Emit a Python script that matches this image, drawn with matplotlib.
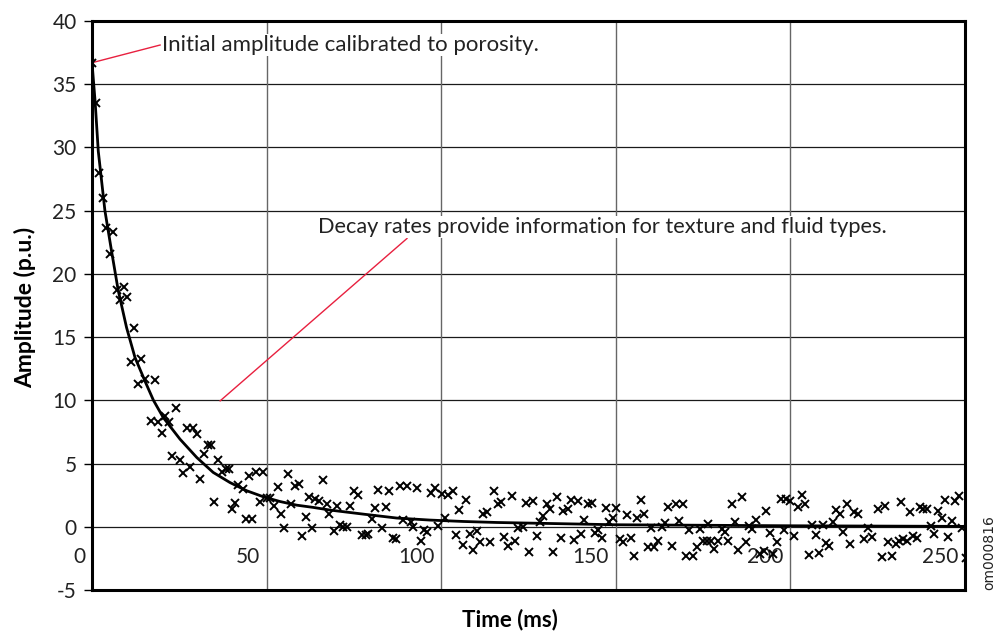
import matplotlib
matplotlib.use('Agg')
import matplotlib.pyplot as plt

plt.rcParams['font.family'] = ['Lato', 'DejaVu Sans']
plt.rcParams['axes.unicode_minus'] = False

time_ms = [0.0, 1.1, 2.0, 3.1, 4.1, 5.1, 6.0, 7.2, 8.1, 9.1, 10.0, 11.1, 12.0, 13.1, 13.9,
           15.2, 16.9, 17.9, 19.0, 20.1, 20.9, 22.0, 23.0, 24.1, 25.2, 26.1, 27.1, 28.1, 28.8,
           30.2, 30.9, 32.1, 33.3, 34.0, 35.0, 36.2, 37.2, 38.5, 39.1, 40.1, 41.0, 41.9, 43.3,
           44.0, 45.0, 45.9, 47.1, 48.1, 48.9, 50.0, 51.0, 52.1, 53.2, 54.1, 55.1, 56.1, 57.1,
           58.0, 59.2, 60.0, 61.2, 62.1, 63.1, 64.0, 65.0, 66.1, 67.2, 67.9, 69.2, 70.1, 71.0,
           72.0, 73.0, 73.9, 75.1, 76.2, 77.2, 78.5, 79.1, 80.1, 81.0, 82.0, 83.0, 84.2, 85.1,
           86.2, 87.1, 88.2, 89.2, 90.1, 91.3, 92.0, 93.2, 94.1, 95.1, 96.0, 97.0, 98.2, 99.2,
           100.1, 101.1, 102.0, 103.3, 104.1, 105.2, 106.2, 107.2, 108.2, 109.2, 110.2, 111.1,
           112.1, 113.0, 114.1, 115.1, 116.2, 117.1, 118.1, 119.2, 120.2, 121.1, 122.1, 123.3,
           124.3, 125.2, 126.4, 127.3, 128.3, 129.2, 130.4, 131.2, 132.1, 133.1, 134.2, 135.0,
           136.2, 137.2, 138.1, 139.1, 140.0, 141.0, 142.1, 143.1, 144.0, 145.0, 146.1, 147.1,
           148.1, 149.1, 150.1, 151.2, 152.2, 153.3, 154.3, 155.2, 156.2, 157.2, 158.2, 159.1,
           160.1, 161.0, 162.2, 163.1, 164.1, 165.0, 166.0, 167.2, 168.1, 169.2, 170.0, 171.0,
           172.0, 173.2, 174.1, 175.1, 176.2, 176.5, 177.2, 178.2, 179.2, 180.3, 181.3, 182.2,
           183.2, 184.1, 185.1, 186.2, 187.2, 188.1, 189.1, 190.1, 191.3, 192.3, 193.0, 194.2,
           194.9, 196.1, 197.2, 198.2, 198.7, 199.9, 201.1, 202.1, 203.2, 204.2, 205.3, 206.3,
           207.2, 208.2, 209.2, 210.1, 211.1, 212.1, 213.2, 214.2, 215.2, 216.1, 217.1, 218.2,
           219.4, 221.2, 222.3, 223.3, 225.2, 226.1, 227.1, 228.0, 229.0, 230.2, 231.2, 231.6,
           232.3, 233.3, 234.2, 235.2, 236.2, 237.1, 238.1, 239.0, 240.3, 241.1, 242.4, 243.3,
           244.3, 245.2, 246.2, 247.2, 248.3, 249.2, 250.2]
amp = [36.7, 33.5, 28.0, 26.0, 23.6, 21.6, 23.3, 18.7, 17.9, 19.0, 18.2, 13.0, 15.7, 11.3, 13.25,
       11.7, 8.4, 11.6, 8.25, 7.4, 8.8, 8.25, 5.6, 9.4, 5.25, 4.25, 7.85, 4.7, 7.85,
       7.3, 3.8, 5.75, 6.5, 6.5, 1.97, 5.25, 4.3, 4.6, 4.55, 1.4, 1.92, 3.27, 2.98,
       0.63, 4.0, 0.63, 4.3, 1.97, 4.3, 2.3, 2.27, 1.66, 3.14, 1.05, -0.1, 4.2, 1.79,
       3.19, 3.42, -0.71, 0.74, 2.37, -0.1, 2.19, 2.05, 3.69, 1.79, 1.0, -0.37, 1.66, 0.16,
       -0.05, 0.0, 1.66, 2.8, 2.5, -0.66, -0.63, -0.6, 0.6, 1.45, 2.9, -0.1, 1.58, 2.8,
       -0.92, -0.97, 3.19, 0.56, 3.19, 0.34, 0.0, 3.1, -1.1, -0.26, -0.45, 2.71, 3.1, 0.08,
       2.58, 0.69, 2.53, 2.8, -0.66, 1.32, -1.42, 2.11, -0.58, -1.84, -0.32, -1.24,
       1.0, 1.13, -1.24, 2.79, 1.84, 1.98, -0.84, -1.5, 2.45, -1.1, -0.1, 0.0,
       1.92, -2.03, 2.05, -0.76, 0.34, 0.87, 1.79, 1.4, -2.03, 2.37, -0.9, 1.26,
       1.4, 2.11, -1.05, 2.05, -0.58, 0.55, 1.84, 1.92, -0.53, -0.26, -0.9, 1.45,
       0.34, 0.69, 1.45, -0.97, -1.24, 0.95, -0.92, -2.29, 0.69, 2.11, 1.0, -1.63,
       -0.1, -1.6, -1.1, 0.0, 0.29, 1.53, -1.5, 1.84, 0.42, 1.84, -2.29, -0.26,
       -2.29, -1.58, -0.18, -1.16, -1.1, 0.2, -1.1, -1.76, -1.1, -0.18, -0.45, -1.16,
       1.79, 0.4, -1.84, 2.32, -1.24, 0.08, -0.18, 0.55, -2.16, -1.9, 1.21, -0.5,
       -2.16, -1.24, 2.19, -0.24, 2.19, 2.05, -0.76, 1.58, 2.53, 1.84, -2.21, 0.16,
       -0.66, -2.08, 0.16, -1.29, -1.55, 0.34, 1.32, 1.05, -0.45, 1.84, -1.37, 1.19,
       1.05, -0.97, -0.1, -0.84, 1.4, -2.42, 1.66, -1.19, -2.34, -1.37, -1.16, 1.98,
       -0.97, -1.16, 1.19, -0.71, -0.92, 1.58, 1.4, 1.4, 0.03, -0.58, 1.26, 0.69,
       2.11, -0.84, 0.47, 2.0, 2.45, -0.1, -2.5]

# fitted decay curve, sampled off the plot
fit_t = [0, 0.9, 1.8, 3.7, 5.6, 7.5, 9.9, 12.3, 15.2, 17.6, 20.4, 25.2, 30.0, 34.7, 39.5,
         44.3, 49.1, 53.8, 58.6, 63.4, 68.2, 77.7, 87.3, 96.8, 106.3, 115.9, 125.4, 150,
         200, 250]
fit_amp = [36.7, 33.6, 29.7, 25.0, 21.8, 18.7, 15.75, 13.4, 11.5, 10.0, 8.64, 6.93, 5.48,
           4.3, 3.5, 2.85, 2.37, 2.0, 1.71, 1.53, 1.32, 1.0, 0.69, 0.53, 0.42, 0.34, 0.29,
           0.16, 0.08, 0.03]

x_ticks = [0, 50, 100, 150, 200, 250]
y_ticks = [-5, 0, 5, 10, 15, 20, 25, 30, 35, 40]

fig = plt.figure(figsize=(9.98, 6.32), dpi=100)
ax = fig.add_axes([92 / 998, 42 / 632, 873 / 998, 569 / 632])

ax.set_xlim(0, 250)
ax.set_ylim(-5, 40)
ax.set_yticks(y_ticks)
ax.set_xticks(x_ticks)
ax.set_xticklabels([])
ax.tick_params(axis='x', length=0)
ax.tick_params(axis='y', length=6, width=1, pad=5, labelsize=15, labelcolor='#222222')

for y in y_ticks[1:]:
    ax.axhline(y, color='#1a1a1a', lw=0.9, zorder=1)
for x in x_ticks[1:-1]:
    ax.axvline(x, color='#666666', lw=1.0, zorder=1)

# x tick labels sit inside the plot, just under the zero line
for x in x_ticks:
    ax.annotate(str(x), (x, -2.37), xytext=(-5, 0), textcoords='offset points',
                ha='right', va='center', fontsize=15, color='#222222')

for s in ax.spines.values():
    s.set_linewidth(2.2)
    s.set_color('black')

ax.plot(fit_t, fit_amp, color='black', lw=2, zorder=3)
ax.plot(time_ms, amp, 'x', color='black', ms=5.5, mew=1.4, zorder=4)

red = '#e8203f'
ax.plot([0, 19.5], [36.7, 38.1], color=red, lw=1, zorder=2)
ax.text(20, 38.1, 'Initial amplitude calibrated to porosity.', fontsize=16, color='#222222',
        ha='left', va='center', zorder=2,
        bbox=dict(facecolor='white', edgecolor='none', pad=1))
ax.plot([36.7, 90.2], [9.96, 22.8], color=red, lw=1, zorder=2)
ax.text(64.7, 23.7, 'Decay rates provide information for texture and fluid types.', fontsize=15.7,
        color='#222222', ha='left', va='center', zorder=2,
        bbox=dict(facecolor='white', edgecolor='none', pad=1))

fig.text(510 / 998, 1 - 620 / 632, 'Time (ms)', ha='center', va='center',
         fontsize=16, fontweight='bold')
fig.text(25 / 998, 1 - 307 / 632, 'Amplitude (p.u.)', ha='center', va='center',
         rotation=90, fontsize=16.5, fontweight='bold')
fig.text(989 / 998, 1 - 553 / 632, 'om000816', ha='center', va='center', rotation=90,
         fontsize=10, family='DejaVu Sans', color='#222222')

fig.savefig('out.png', dpi=100)
